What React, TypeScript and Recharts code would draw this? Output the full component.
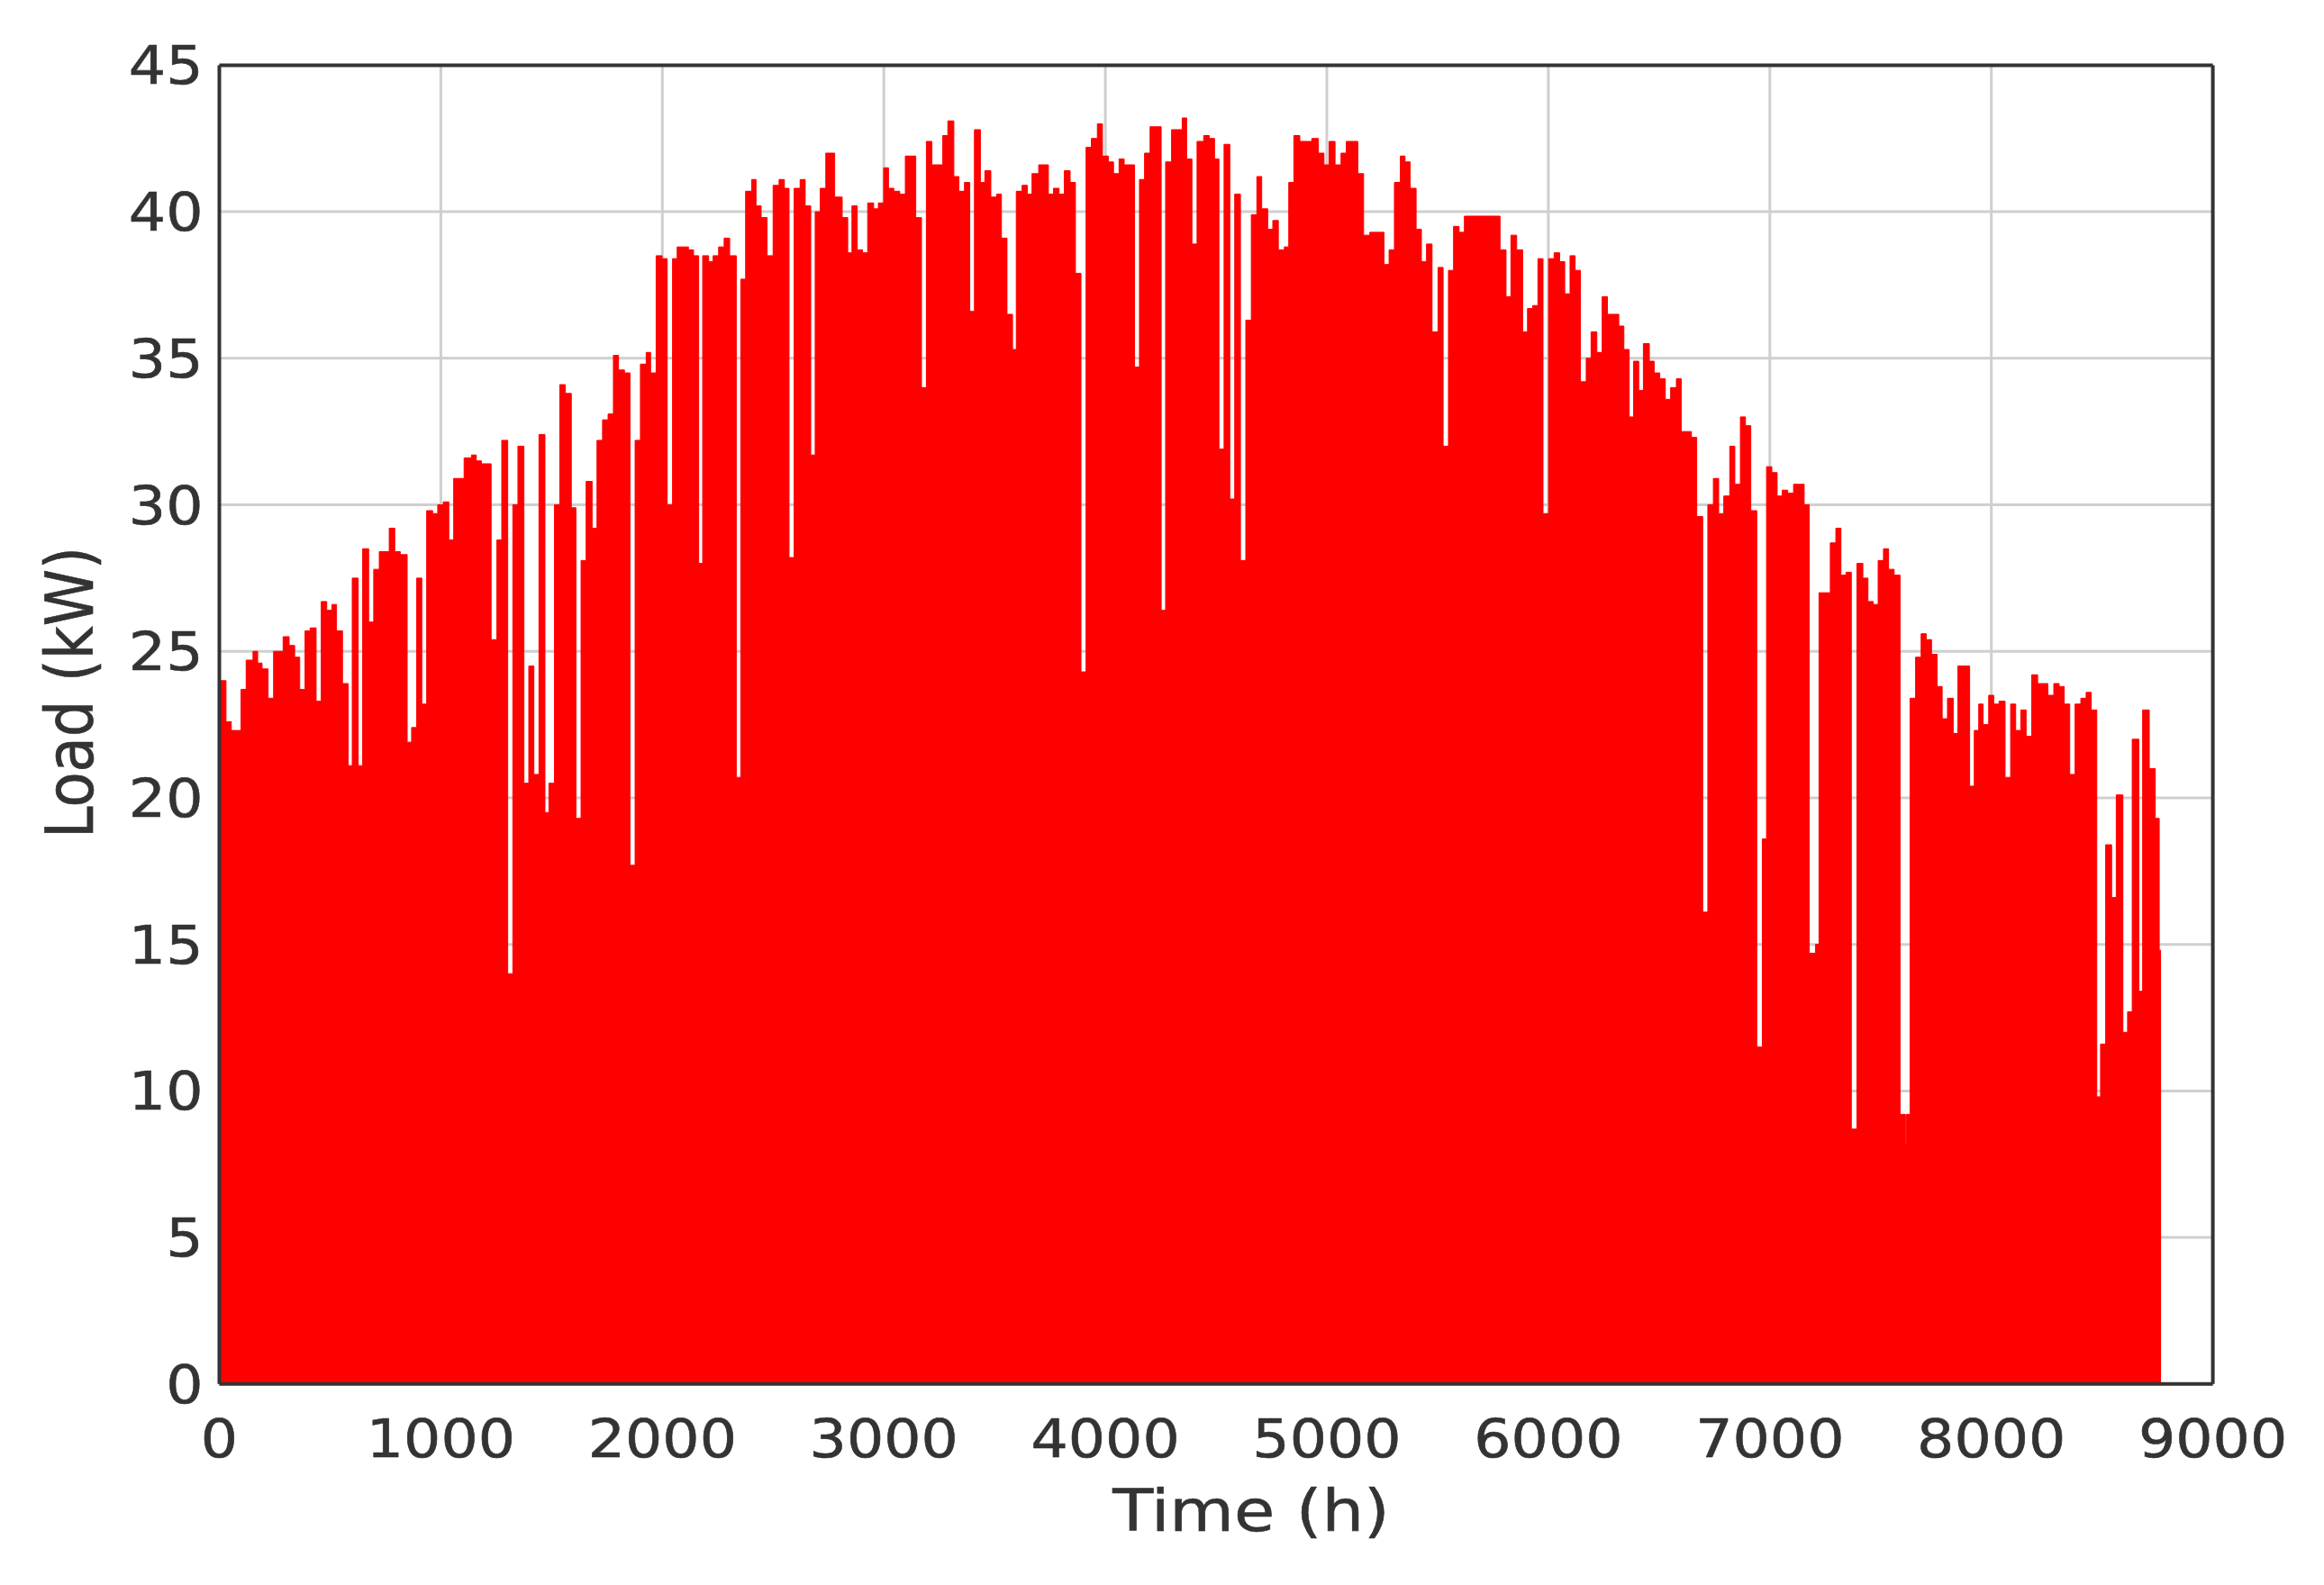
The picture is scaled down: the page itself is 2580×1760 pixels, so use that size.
import React from "react";
import { AreaChart, Area, XAxis, YAxis, CartesianGrid, Label, ReferenceLine } from "recharts";

// Hour at which each step starts, and the load (kW) held until the next step.
const HOURS: number[] = [
  0, 30, 54, 98, 121, 152, 173, 193, 220, 245, 288, 315, 340, 363, 387, 410, 437, 460, 485, 508,
  529, 556, 582, 600, 627, 647, 674, 697, 722, 767, 792, 817, 848, 868, 891, 914, 936, 963, 986, 1011,
  1036, 1058, 1105, 1138, 1160, 1183, 1227, 1253, 1275, 1302, 1325, 1348, 1375, 1397, 1420, 1443, 1470, 1488, 1513, 1537,
  1562, 1589, 1610, 1633, 1656, 1683, 1705, 1730, 1755, 1779, 1802, 1829, 1854, 1877, 1901, 1927, 1947, 1972, 1999, 2022,
  2046, 2067, 2091, 2118, 2141, 2164, 2182, 2209, 2229, 2254, 2279, 2304, 2334, 2354, 2376, 2403, 2423, 2446, 2473, 2500,
  2527, 2551, 2572, 2595, 2622, 2645, 2670, 2690, 2713, 2738, 2778, 2812, 2837, 2856, 2880, 2904, 2927, 2954, 2975, 2999,
  3021, 3045, 3072, 3097, 3144, 3170, 3192, 3217, 3266, 3289, 3316, 3339, 3364, 3388, 3409, 3436, 3456, 3483, 3509, 3531,
  3556, 3581, 3598, 3624, 3648, 3669, 3699, 3743, 3766, 3791, 3815, 3841, 3865, 3890, 3913, 3937, 3964, 3987, 4014, 4037,
  4062, 4085, 4132, 4154, 4177, 4202, 4252, 4272, 4299, 4347, 4367, 4391, 4414, 4444, 4469, 4493, 4513, 4536, 4562, 4584,
  4610, 4634, 4659, 4684, 4706, 4733, 4756, 4781, 4808, 4828, 4851, 4878, 4932, 4962, 4987, 5010, 5037, 5064, 5088, 5140,
  5166, 5194, 5231, 5258, 5281, 5305, 5332, 5353, 5376, 5403, 5427, 5450, 5475, 5502, 5525, 5549, 5572, 5597, 5621, 5782,
  5809, 5831, 5857, 5884, 5906, 5929, 5953, 5976, 6001, 6026, 6051, 6074, 6098, 6121, 6145, 6171, 6193, 6219, 6243, 6267,
  6318, 6341, 6365, 6385, 6408, 6429, 6456, 6478, 6503, 6528, 6552, 6578, 6600, 6646, 6670, 6697, 6720, 6745, 6769, 6792,
  6819, 6842, 6867, 6890, 6914, 6941, 6966, 6985, 7009, 7033, 7056, 7081, 7107, 7131, 7155, 7178, 7206, 7222, 7249, 7273,
  7298, 7321, 7344, 7368, 7393, 7420, 7443, 7467, 7489, 7513, 7536, 7561, 7588, 7612, 7616, 7633, 7658, 7683, 7706, 7730,
  7755, 7778, 7802, 7828, 7849, 7902, 7923, 7943, 7963, 7988, 8011, 8035, 8062, 8087, 8110, 8133, 8157, 8182, 8209, 8255,
  8282, 8306, 8329, 8354, 8378, 8404, 8428, 8451, 8476, 8493, 8516, 8543, 8564, 8594, 8615, 8636, 8666, 8683, 8713, 8740,
  8758, 8766,
];

const LOAD: number[] = [
  24.0, 22.6, 22.3, 23.7, 24.7, 25.0, 24.6, 24.4, 23.4, 25.0, 25.5, 25.2, 24.8, 23.7, 25.7, 25.8, 23.3, 26.7, 26.4, 26.6,
  25.7, 23.9, 21.1, 27.5, 21.1, 28.5, 26.0, 27.8, 28.4, 29.2, 28.4, 28.3, 21.9, 22.4, 27.5, 23.2, 29.8, 29.7, 30.0, 30.1,
  28.8, 30.9, 31.6, 31.7, 31.5, 31.4, 25.4, 28.8, 32.2, 14.0, 30.0, 32.0, 20.5, 24.5, 20.8, 32.4, 19.5, 20.5, 30.0, 34.1,
  33.8, 29.9, 19.3, 28.1, 30.8, 29.2, 32.2, 32.9, 33.1, 35.1, 34.6, 34.5, 17.7, 32.2, 34.8, 35.2, 34.5, 38.5, 38.4, 30.0,
  38.4, 38.8, 38.8, 38.7, 38.5, 28.0, 38.5, 38.3, 38.5, 38.8, 39.1, 38.5, 20.7, 37.7, 40.7, 41.1, 40.2, 39.8, 38.5, 40.9,
  41.1, 40.8, 28.2, 40.8, 41.1, 40.2, 31.7, 40.0, 40.8, 42.0, 40.5, 39.8, 38.6, 40.2, 38.7, 38.6, 40.3, 40.1, 40.3, 41.5,
  40.8, 40.7, 40.6, 41.9, 39.8, 34.0, 42.4, 41.6, 42.6, 43.1, 41.2, 40.7, 41.0, 36.6, 42.8, 41.0, 41.4, 40.5, 40.6, 39.1,
  36.5, 35.3, 40.7, 40.9, 40.6, 41.3, 41.6, 40.6, 40.8, 40.6, 41.4, 41.0, 37.9, 24.3, 42.2, 42.5, 43.0, 41.9, 41.7, 41.3,
  41.8, 41.6, 34.7, 41.1, 42.0, 42.9, 26.4, 41.7, 42.8, 43.2, 41.8, 38.9, 42.4, 42.6, 42.5, 41.8, 31.9, 42.3, 30.2, 40.6,
  28.1, 36.3, 39.9, 41.2, 40.1, 39.4, 39.7, 38.7, 38.8, 41.0, 42.6, 42.4, 42.5, 42.0, 41.6, 42.4, 41.6, 42.0, 42.4, 41.3,
  39.2, 39.3, 39.3, 38.2, 38.7, 41.0, 41.9, 41.7, 40.8, 39.4, 38.3, 38.9, 35.9, 38.1, 32.0, 38.0, 39.5, 39.3, 39.85, 38.7,
  37.1, 39.2, 38.7, 35.9, 36.7, 36.8, 38.4, 29.7, 38.4, 38.6, 38.3, 37.2, 38.5, 38.0, 34.2, 35.0, 35.9, 35.2, 37.1, 36.5,
  36.1, 35.3, 33.0, 34.9, 33.9, 35.5, 34.9, 34.5, 34.3, 33.6, 34.0, 34.3, 32.5, 32.3, 29.6, 16.1, 30.0, 30.9, 29.7, 30.3,
  32.0, 30.7, 33.0, 32.7, 29.8, 11.5, 18.6, 31.3, 31.1, 30.3, 30.5, 30.4, 30.7, 30.7, 30.0, 14.7, 15.0, 27.0, 27.0, 28.7,
  29.2, 27.6, 27.7, 8.7, 28.0, 27.5, 26.7, 26.6, 28.1, 28.5, 27.8, 27.6, 9.2, 8.2, 9.2, 23.4, 24.8, 25.6, 25.4, 24.9,
  23.8, 22.7, 23.4, 22.2, 24.5, 20.4, 22.3, 23.2, 22.5, 23.5, 23.2, 23.3, 20.7, 23.2, 22.3, 23.0, 22.1, 24.2, 23.9, 23.5,
  23.9, 23.8, 23.2, 20.8, 23.2, 23.4, 23.6, 23.0, 9.8, 11.6, 18.4, 16.6, 20.1, 12.0, 12.7, 22.0, 13.4, 23.0, 21.0, 19.3,
  14.8, 14.8,
];

const X_TICKS: number[] = [0, 1000, 2000, 3000, 4000, 5000, 6000, 7000, 8000, 9000];
const Y_TICKS: number[] = [0, 5, 10, 15, 20, 25, 30, 35, 40, 45];
const X_MAX = 9000;
const Y_MAX = 45;

const X_TITLE = "Time (h)";
const Y_TITLE = "Load (kW)";

const data = HOURS.map((h, i) => ({ h, load: LOAD[i] }));

const FONT = "'DejaVu Sans', Verdana, sans-serif";
const TEXT_COLOR = "#333333";
const FRAME = "#333333";
const STRETCH = 1.12;

const XTick = (props: any) => {
  const { x, y, payload } = props;
  return (
    <text
      transform={`translate(${x},${y + 73}) scale(${STRETCH},1)`}
      textAnchor="middle"
      fontFamily={FONT}
      fontSize={58}
      fill={TEXT_COLOR}
      stroke={TEXT_COLOR}
      strokeWidth={0.6}
    >
      {payload.value}
    </text>
  );
};

const YTick = (props: any) => {
  const { x, y, payload } = props;
  return (
    <text
      transform={`translate(${x - 10},${y + 21}) scale(${STRETCH},1)`}
      textAnchor="end"
      fontFamily={FONT}
      fontSize={58}
      fill={TEXT_COLOR}
      stroke={TEXT_COLOR}
      strokeWidth={0.6}
    >
      {payload.value}
    </text>
  );
};

const XTitle = () => (
  <text
    transform={`translate(1381,1692) scale(1.15,1)`}
    textAnchor="middle"
    fontFamily={FONT}
    fontSize={64}
    fill={TEXT_COLOR}
    stroke={TEXT_COLOR}
    strokeWidth={0.6}
  >
    {X_TITLE}
  </text>
);

const YTitle = () => (
  <text
    transform={`translate(95,761) scale(1.15,1) rotate(-90)`}
    textAnchor="middle"
    fontFamily={FONT}
    fontSize={64}
    fill={TEXT_COLOR}
    stroke={TEXT_COLOR}
    strokeWidth={0.6}
  >
    {Y_TITLE}
  </text>
);

export default function App() {
  return (
    <div style={{ width: 2560, height: 1740, background: "#ffffff" }}>
      <AreaChart
        width={2560}
        height={1740}
        data={data}
        margin={{ top: 64.4, right: 111.4, left: 0, bottom: 0 }}
      >
        <CartesianGrid stroke="#cfcfcf" strokeWidth={3} />
        <Area
          type="stepAfter"
          dataKey="load"
          stroke="#ff0000"
          strokeWidth={1}
          fill="#ff0000"
          fillOpacity={1}
          isAnimationActive={false}
          dot={false}
          activeDot={false}
        />
        <XAxis
          type="number"
          dataKey="h"
          domain={[0, X_MAX]}
          ticks={X_TICKS}
          tickLine={false}
          axisLine={{ stroke: FRAME, strokeWidth: 4 }}
          tick={<XTick />}
          height={211.2}
          interval={0}
        >
          <Label content={<XTitle />} />
        </XAxis>
        <YAxis
          type="number"
          domain={[0, Y_MAX]}
          ticks={Y_TICKS}
          tickLine={false}
          axisLine={{ stroke: FRAME, strokeWidth: 4 }}
          tick={<YTick />}
          width={235.5}
          interval={0}
        >
          <Label content={<YTitle />} />
        </YAxis>
        <ReferenceLine y={Y_MAX} stroke={FRAME} strokeWidth={4} ifOverflow="extendDomain" />
        <ReferenceLine x={X_MAX} stroke={FRAME} strokeWidth={4} ifOverflow="extendDomain" />
      </AreaChart>
    </div>
  );
}
